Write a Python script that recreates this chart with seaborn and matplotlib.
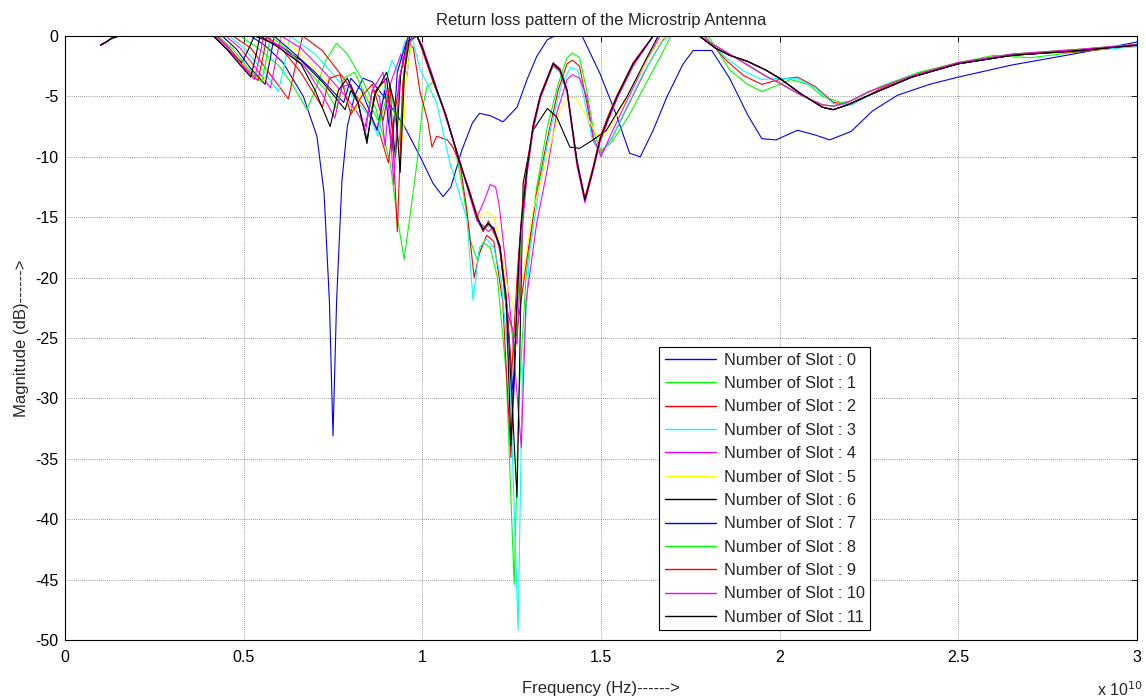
import matplotlib
matplotlib.use("Agg")
import matplotlib.pyplot as plt
import numpy as np
import pandas as pd
import seaborn as sns

# ---------------- data (frequency in units of 1e10 Hz, magnitude in dB) ----------------
head_f = [0.10, 0.115, 0.13, 0.15]
head_m = [-0.75, -0.5, -0.2, 0.0]

# Slot 0 (complete trace)
s0_f = [0.10, 0.115, 0.13, 0.15, 0.52, 0.56, 0.61, 0.667, 0.705, 0.725, 0.74, 0.75, 0.76, 0.775, 0.79,
        0.81, 0.834, 0.86, 0.90, 0.95, 0.994, 1.03, 1.058, 1.08, 1.11, 1.14, 1.16, 1.19, 1.226, 1.265,
        1.293, 1.32, 1.35, 1.37, 1.43, 1.447, 1.497, 1.545, 1.58, 1.61, 1.646, 1.685, 1.73, 1.758, 1.81,
        1.86, 1.91, 1.95, 1.99, 2.05, 2.10, 2.14, 2.2, 2.26, 2.33, 2.42, 2.5, 2.65, 2.84, 3.0]
s0_m = [-0.75, -0.5, -0.2, 0, 0, -0.8, -2.2, -5.0, -8.3, -13, -22, -33.1, -22, -12, -7.5,
        -5.0, -3.5, -3.8, -5.3, -7.5, -10, -12.2, -13.3, -12.5, -9.5, -7.2, -6.4, -6.6, -7.1, -5.9,
        -3.6, -1.7, -0.3, 0, 0, 0, -3.1, -6.7, -9.7, -10, -7.8, -5.0, -2.3, -1.2, -1.2,
        -3.5, -6.5, -8.5, -8.6, -7.8, -8.2, -8.6, -7.9, -6.2, -4.9, -4.0, -3.4, -2.4, -1.4, -0.5]

# low-frequency part (slots 1..11)
low1_f = [0.49, 0.54, 0.60, 0.64, 0.677, 0.70, 0.73, 0.76, 0.79, 0.83, 0.87, 0.91, 0.93, 0.949, 0.965, 0.985, 1.0, 1.013]
low1_m = [0, -1.0, -2.5, -4.2, -6.1, -4.5, -2.0, -0.6, -1.5, -3.5, -6.0, -10.5, -15, -18.5, -15, -10.5, -6, -4.2]
low2_f = [0.47, 0.52, 0.57, 0.625, 0.645, 0.665, 0.72, 0.78, 0.84, 0.88, 0.905, 0.92, 0.94, 0.96, 0.975, 0.994]
low2_m = [0, -1.0, -3.0, -5.2, -2.5, 0, -1.2, -3.5, -6.0, -8.0, -10.5, -7, -3, -0.5, -1.0, -4.7]
low3_f = [0.46, 0.50, 0.55, 0.597, 0.615, 0.63, 0.70, 0.76, 0.82, 0.855, 0.876, 0.895, 0.915, 0.93, 0.95, 0.97, 0.994]
low3_m = [0, -1.0, -2.7, -4.6, -2.2, 0, -1.5, -3.5, -5.5, -6.8, -8.3, -4, -2, -3, -0.5, 0, -2.8]
low4_f = [0.45, 0.49, 0.53, 0.575, 0.59, 0.605, 0.66, 0.72, 0.78, 0.815, 0.84, 0.86, 0.88, 0.896, 0.91, 0.94, 0.957, 0.97, 0.985]
low4_m = [0, -1.0, -2.5, -4.3, -2.0, 0, -1.0, -2.8, -4.8, -6.2, -7.5, -4.5, -5, -9.1, -4, -1.5, -3.3, 0, 0]
low5_f = [0.44, 0.48, 0.52, 0.556, 0.575, 0.59, 0.65, 0.72, 0.77, 0.812, 0.83, 0.86, 0.89, 0.92, 0.946, 0.955, 0.97, 0.985]
low5_m = [0, -1.0, -2.4, -3.9, -1.5, 0, -1.2, -3.3, -5.0, -6.3, -4.5, -5.5, -3.8, -5.5, -8.7, -3.5, -0.5, 0]
low6_f = [0.415, 0.45, 0.495, 0.515, 0.53, 0.60, 0.66, 0.72, 0.76, 0.784, 0.80, 0.82, 0.845, 0.87, 0.90, 0.925, 0.94, 0.96, 0.985]
low6_m = [0, -1.0, -2.2, -1.0, 0, -0.8, -2.0, -3.8, -5.2, -6.1, -4.5, -5.5, -8.6, -4.5, -3.5, -10, -3, 0, 0]
low7_f = [0.44, 0.48, 0.52, 0.56, 0.575, 0.585, 0.64, 0.70, 0.75, 0.78, 0.80, 0.83, 0.873, 0.895, 0.915, 0.93, 0.955, 0.985]
low7_m = [0, -1.1, -2.7, -4.0, -1.8, 0, -1.4, -3.0, -4.6, -5.5, -3.5, -4.5, -7.8, -4.5, -9.5, -3.0, -0.5, 0]
low8_f = [0.43, 0.47, 0.51, 0.55, 0.565, 0.575, 0.63, 0.69, 0.73, 0.76, 0.78, 0.81, 0.85, 0.88, 0.91, 0.935, 0.95, 0.965, 0.985]
low8_m = [0, -1.1, -2.6, -3.8, -1.7, 0, -1.3, -3.2, -4.5, -6.0, -3.5, -3.0, -5.5, -7.2, -4, -9.0, -3, -0.5, 0]
low9_f = [0.425, 0.46, 0.50, 0.54, 0.555, 0.565, 0.61, 0.66, 0.72, 0.74, 0.77, 0.80, 0.83, 0.86, 0.89, 0.91, 0.93, 0.945, 0.96, 0.985]
low9_m = [0, -1.0, -2.5, -3.7, -1.6, 0, -1.2, -3.0, -5.9, -3.5, -3.2, -6.5, -5, -4, -7, -4, -16.2, -4, 0, 0]
low10_f = [0.42, 0.45, 0.49, 0.53, 0.545, 0.556, 0.61, 0.67, 0.72, 0.755, 0.775, 0.80, 0.82, 0.84, 0.86, 0.89, 0.905, 0.92, 0.935, 0.96, 0.985]
low10_m = [0, -0.8, -2.3, -3.6, -1.6, 0, -1.0, -2.5, -4.8, -6.8, -4.2, -4.0, -5.5, -8.0, -4.5, -3.0, -5.5, -12.3, -3.5, -0.5, 0]
low11_f = [0.415, 0.45, 0.49, 0.52, 0.535, 0.546, 0.60, 0.66, 0.70, 0.742, 0.765, 0.79, 0.82, 0.845, 0.865, 0.90, 0.925, 0.938, 0.95, 0.965, 0.985]
low11_m = [0, -1.0, -2.4, -3.4, -1.5, 0, -1.0, -2.3, -4.5, -7.5, -4.5, -3.5, -5.5, -8.9, -5, -3, -6, -11.3, -3, 0, 0]

# middle part (slots 1..11)
mid1_f = [1.03, 1.065, 1.09, 1.115, 1.135, 1.153, 1.17, 1.19, 1.21, 1.235, 1.257, 1.27, 1.29, 1.32, 1.35, 1.38, 1.405, 1.42, 1.44, 1.46, 1.48, 1.5, 1.53, 1.58, 1.63, 1.67, 1.695, 1.72]
mid1_m = [-3.8, -6.5, -9, -13, -17, -18.5, -17.1, -17.5, -20, -28, -45.4, -30, -20, -12.5, -7.5, -4, -1.8, -1.4, -1.8, -4.5, -8, -9.5, -8.8, -6.5, -3.7, -1.5, 0, 0]
mid2_f = [1.015, 1.027, 1.04, 1.07, 1.085, 1.105, 1.125, 1.145, 1.16, 1.18, 1.2, 1.225, 1.248, 1.262, 1.29, 1.32, 1.35, 1.38, 1.405, 1.42, 1.44, 1.46, 1.48, 1.5, 1.53, 1.575, 1.63, 1.68, 1.70]
mid2_m = [-7, -9.2, -8.3, -8.6, -9.2, -10.5, -14.5, -20, -18, -16.5, -17, -22, -34.9, -25, -19, -13, -8.5, -4.5, -2.3, -2.0, -2.5, -5.5, -8.8, -9.7, -8.5, -5.8, -2.5, 0, 0]
mid3_f = [1.04, 1.077, 1.1, 1.125, 1.142, 1.16, 1.18, 1.2, 1.22, 1.245, 1.268, 1.28, 1.3, 1.33, 1.36, 1.39, 1.415, 1.435, 1.455, 1.475, 1.5, 1.53, 1.57, 1.62, 1.67, 1.69, 1.70]
mid3_m = [-5.5, -10.5, -12.7, -15.2, -21.9, -17.5, -16.8, -17.5, -20, -28, -49.2, -28, -18, -12, -7.5, -4, -2.6, -2.8, -5.5, -8.5, -9.8, -8.5, -6, -3, -0.5, 0, 0]
mid4_f = [1.0, 1.03, 1.065, 1.105, 1.13, 1.153, 1.175, 1.19, 1.205, 1.215, 1.23, 1.25, 1.277, 1.29, 1.32, 1.35, 1.376, 1.405, 1.42, 1.44, 1.46, 1.478, 1.50, 1.53, 1.57, 1.62, 1.665, 1.70]
mid4_m = [-1.0, -3.6, -6.5, -10.5, -12.8, -15, -13.5, -12.3, -12.5, -14, -18, -24, -34.1, -22, -15.5, -11, -6.4, -3.6, -3.2, -3.5, -5, -8.3, -10, -8, -5.5, -2.5, 0, 0]
mid5_f = [1.0, 1.03, 1.065, 1.105, 1.13, 1.153, 1.165, 1.18, 1.2, 1.215, 1.24, 1.262, 1.28, 1.31, 1.35, 1.385, 1.41, 1.43, 1.47, 1.497, 1.52, 1.56, 1.6, 1.65, 1.68, 1.70]
mid5_m = [-1.0, -3.6, -6.5, -10.5, -12.8, -15, -14.8, -14.6, -14.9, -17, -21, -23, -20, -14.4, -10, -6.1, -5.1, -5.1, -7.2, -8.6, -7.8, -5.8, -3.5, -1.0, 0, 0]
mid6_f = [1.0, 1.03, 1.065, 1.105, 1.13, 1.153, 1.17, 1.185, 1.2, 1.217, 1.24, 1.265, 1.282, 1.31, 1.35, 1.376, 1.413, 1.44, 1.478, 1.515, 1.573, 1.63, 1.66, 1.70]
mid6_m = [-1.0, -3.6, -6.5, -10.4, -12.8, -15, -16, -15.5, -16, -17.5, -24, -38.2, -12.2, -7.8, -6.0, -6.7, -9.2, -9.3, -8.6, -7.8, -5.0, -1.7, 0, 0]
mid7_f = [1.0, 1.03, 1.065, 1.105, 1.13, 1.153, 1.17, 1.185, 1.2, 1.217, 1.235, 1.255, 1.27, 1.293, 1.31, 1.33, 1.366, 1.385, 1.405, 1.433, 1.455, 1.478, 1.497, 1.52, 1.545, 1.59, 1.646, 1.70]
mid7_m = [-0.9, -3.5, -6.6, -10.5, -12.7, -15.2, -16.1, -15.6, -15.9, -17.4, -22, -30, -18, -11.1, -7.6, -5.0, -2.3, -2.8, -4.5, -10.4, -13.5, -11, -8.6, -6.8, -5.0, -2.3, 0, 0]
mid8_f = [1.0, 1.03, 1.065, 1.105, 1.13, 1.153, 1.17, 1.185, 1.2, 1.217, 1.235, 1.248, 1.26, 1.28, 1.293, 1.31, 1.33, 1.366, 1.385, 1.405, 1.433, 1.455, 1.478, 1.497, 1.52, 1.545, 1.59, 1.646, 1.70]
mid8_m = [-1.1, -3.7, -6.6, -10.4, -12.9, -15.1, -15.9, -15.7, -16.1, -17.6, -22.5, -24, -26, -15, -11.2, -7.6, -5.1, -2.5, -3.0, -4.6, -10.6, -13.5, -11.1, -8.7, -6.9, -5.1, -2.4, 0, 0]
mid9_f = [1.0, 1.03, 1.065, 1.105, 1.13, 1.153, 1.17, 1.185, 1.2, 1.217, 1.235, 1.25, 1.265, 1.28, 1.293, 1.31, 1.33, 1.366, 1.385, 1.405, 1.433, 1.455, 1.478, 1.497, 1.52, 1.545, 1.59, 1.646, 1.70]
mid9_m = [-1.2, -3.8, -6.4, -10.6, -12.6, -14.8, -16.2, -15.3, -16.3, -17.3, -21.5, -28, -20, -14, -10.8, -7.3, -4.9, -2.2, -2.7, -4.4, -10.3, -13.4, -10.8, -8.4, -6.6, -4.9, -2.2, 0, 0]
mid10_f = [1.0, 1.03, 1.065, 1.105, 1.13, 1.153, 1.17, 1.185, 1.2, 1.217, 1.24, 1.265, 1.28, 1.293, 1.31, 1.33, 1.366, 1.385, 1.405, 1.433, 1.455, 1.478, 1.497, 1.52, 1.545, 1.59, 1.646, 1.70]
mid10_m = [-0.8, -3.4, -6.7, -10.3, -13.0, -15.3, -15.7, -16.2, -15.8, -17.8, -23, -25.5, -16, -11.5, -7.8, -5.2, -2.4, -2.9, -4.7, -10.8, -13.8, -11.2, -8.8, -7, -5.2, -2.5, 0, 0]
mid11_f = [1.0, 1.03, 1.065, 1.105, 1.13, 1.153, 1.17, 1.185, 1.2, 1.217, 1.235, 1.248, 1.262, 1.275, 1.293, 1.31, 1.33, 1.366, 1.385, 1.405, 1.433, 1.455, 1.478, 1.497, 1.52, 1.545, 1.59, 1.646, 1.70]
mid11_m = [-1.0, -3.6, -6.5, -10.5, -12.8, -15, -16, -15.5, -16, -17.5, -22, -33.9, -24, -16, -11, -7.5, -5, -2.3, -2.8, -4.5, -10.5, -13.6, -11, -8.6, -6.8, -5, -2.3, 0, 0]

# high-frequency tails
tail1_f = [1.80, 1.86, 1.91, 1.95, 2.0, 2.03, 2.08, 2.12, 2.17, 2.2, 2.28, 2.39, 2.5, 2.6, 2.7, 2.84, 3.0]
tail1_m = [0, -2.8, -4.0, -4.6, -4.0, -3.6, -4.0, -5.0, -5.5, -5.4, -4.2, -3.0, -2.2, -1.6, -1.8, -1.3, -0.8]
tail2_f = [1.79, 1.85, 1.9, 1.95, 2.0, 2.05, 2.1, 2.15, 2.2, 2.28, 2.39, 2.5, 2.65, 2.75, 2.84, 3.0]
tail2_m = [0, -2.0, -3.3, -4.0, -3.6, -3.4, -4.2, -5.5, -5.7, -4.4, -3.1, -2.2, -1.6, -1.4, -1.3, -0.8]
tail3_f = [1.785, 1.85, 1.9, 1.95, 2.0, 2.05, 2.1, 2.15, 2.2, 2.28, 2.39, 2.5, 2.65, 2.84, 3.0]
tail3_m = [0, -1.8, -2.9, -3.6, -3.5, -3.5, -4.3, -5.6, -5.7, -4.5, -3.2, -2.3, -1.6, -1.2, -0.9]
tailA_f = [1.775, 1.82, 1.86, 1.91, 1.96, 2.0, 2.06, 2.12, 2.15, 2.19, 2.25, 2.37, 2.5, 2.65, 2.84, 3.0]
tailA_m = [0, -1.0, -1.6, -2.1, -2.8, -3.5, -4.8, -5.9, -6.1, -5.7, -4.9, -3.4, -2.3, -1.6, -1.2, -0.75]
tailB_m = [0, -0.8, -1.5, -2.4, -3.3, -3.9, -4.9, -5.7, -5.8, -5.5, -4.6, -3.3, -2.2, -1.5, -1.1, -0.7]

labels = [f"Number of Slot : {i}" for i in range(12)]
colors = ["#0000ff", "#00ff00", "#ff0000", "#00ffff", "#ff00ff", "#ffff00", "#000000",
          "#0000ff", "#00ff00", "#ff0000", "#ff00ff", "#000000"]

pieces = {
    1: (low1_f, low1_m, mid1_f, mid1_m, tail1_f, tail1_m),
    2: (low2_f, low2_m, mid2_f, mid2_m, tail2_f, tail2_m),
    3: (low3_f, low3_m, mid3_f, mid3_m, tail3_f, tail3_m),
    4: (low4_f, low4_m, mid4_f, mid4_m, tailA_f, tailB_m),
    5: (low5_f, low5_m, mid5_f, mid5_m, tailA_f, tailB_m),
    6: (low6_f, low6_m, mid6_f, mid6_m, tailA_f, tailA_m),
    7: (low7_f, low7_m, mid7_f, mid7_m, tailA_f, tailA_m),
    8: (low8_f, low8_m, mid8_f, mid8_m, tailA_f, tailB_m),
    9: (low9_f, low9_m, mid9_f, mid9_m, tailA_f, tailA_m),
    10: (low10_f, low10_m, mid10_f, mid10_m, tailA_f, tailB_m),
    11: (low11_f, low11_m, mid11_f, mid11_m, tailA_f, tailA_m),
}

rows = []
for f, m in zip(s0_f, s0_m):
    rows.append((labels[0], f, m))
for k in range(1, 12):
    lf, lm, mf, mm, tf, tm = pieces[k]
    ff = head_f + lf + mf + tf
    mmm = head_m + lm + mm + tm
    assert len(ff) == len(mmm), k
    for f, m in zip(ff, mmm):
        rows.append((labels[k], f, m))
df = pd.DataFrame(rows, columns=["slot", "freq", "mag"])

# ---------------- plotting ----------------
sns.set_theme(style="white")
plt.rcParams["font.family"] = ["Liberation Sans", "DejaVu Sans"]

fig = plt.figure(figsize=(11.46, 7.0), dpi=100)
ax = fig.add_axes([65 / 1146, 1 - 640 / 700, (1137 - 65) / 1146, (640 - 36) / 700])

sns.lineplot(data=df, x="freq", y="mag", hue="slot", hue_order=labels,
             palette=dict(zip(labels, colors)), estimator=None, sort=False,
             linewidth=0.8, ax=ax, legend=True)

ax.set_xlim(0, 3)
ax.set_ylim(-50, 0)
ax.set_xticks([0, 0.5, 1, 1.5, 2, 2.5, 3])
ax.set_xticklabels(["0", "0.5", "1", "1.5", "2", "2.5", "3"])
ax.set_yticks(np.arange(-50, 1, 5))
ax.set_yticklabels([str(v) for v in range(-50, 1, 5)])
ax.tick_params(direction="in", length=4, width=0.6, top=True, right=True,
               labelsize=11.5, colors="black")
ax.tick_params(axis="x", pad=7)
ax.tick_params(axis="y", pad=5)
ax.grid(True, linestyle=(0, (1, 1.5)), color="#555555", linewidth=0.6, alpha=0.8)
for sp in ax.spines.values():
    sp.set_visible(True)
    sp.set_color("black")
    sp.set_linewidth(0.8)

ax.set_title("Return loss pattern of the Microstrip Antenna", fontsize=12, pad=8)
ax.set_xlabel("Frequency (Hz)------>", fontsize=12, labelpad=12)
ax.set_ylabel("Magnitude (dB)------>", fontsize=12, labelpad=4)
fig.text(1143 / 1146, 1 - 699 / 700, r"x 10$^{10}$", fontsize=11.5, ha="right", va="bottom")

handles, labs = ax.get_legend_handles_labels()
ax.get_legend().remove()
leg = fig.legend(handles, labs, loc="upper left", bbox_to_anchor=(659 / 1146, 1 - 347 / 700),
                 bbox_transform=fig.transFigure, fontsize=11.8, frameon=True, fancybox=False,
                 framealpha=1, edgecolor="black", borderpad=0.35, labelspacing=0.51,
                 handlelength=3.1, handletextpad=0.5, borderaxespad=0)
leg.get_frame().set_linewidth(0.8)
for h in leg.legend_handles:
    h.set_linewidth(1.0)

fig.savefig("out.png", dpi=100, facecolor="white")
